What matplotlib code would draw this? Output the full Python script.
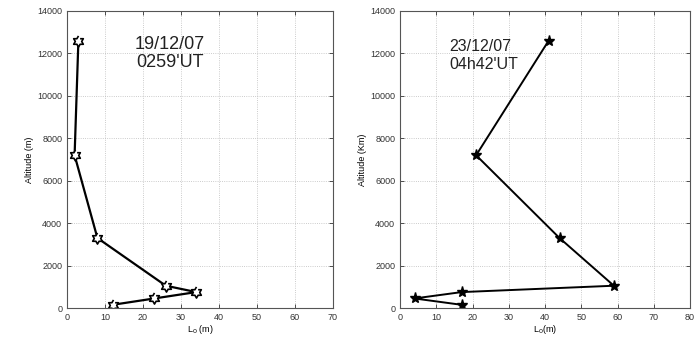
import numpy as np
import matplotlib
matplotlib.use("Agg")
import matplotlib.pyplot as plt

plt.rcParams["font.family"] = ["Liberation Sans", "DejaVu Sans"]

# left panel: 19/12/07 0259'UT
alt1 = [12600, 7200, 3300, 1050, 750, 450, 150]
l0_1 = [3, 2, 8, 26, 34, 23, 12]
# right panel: 23/12/07 04h42'UT
alt2 = [12600, 7200, 3300, 1050, 750, 450, 150]
l0_2 = [41, 21, 44, 59, 17, 4, 17]

xticks1 = [0, 10, 20, 30, 40, 50, 60, 70]
xticks2 = [0, 10, 20, 30, 40, 50, 60, 70, 80]
yticks = [0, 2000, 4000, 6000, 8000, 10000, 12000, 14000]

# hexagram marker (star of David)
ang = np.pi / 2 + np.arange(12) * np.pi / 6
rad = np.where(np.arange(12) % 2 == 0, 1.0, 1 / np.sqrt(3))
hexagram = list(zip(rad * np.cos(ang), rad * np.sin(ang)))

W, H = 698, 344
fig = plt.figure(figsize=(W / 100, H / 100), dpi=100)

def style(ax, xt, xmax, ylabel, xlabel):
    ax.set_xlim(0, xmax)
    ax.set_ylim(0, 14000)
    ax.set_xticks(xt)
    ax.set_yticks(yticks)
    ax.tick_params(direction="in", top=True, right=True, labelsize=6.5,
                   length=3, width=0.6, colors="#333333")
    ax.grid(True, linestyle=":", color="#bbbbbb", linewidth=0.6)
    for s in ax.spines.values():
        s.set_color("#555555")
        s.set_linewidth(0.8)
    ax.set_ylabel(ylabel, fontsize=6.5, labelpad=2)
    ax.set_xlabel(xlabel, fontsize=6.5, labelpad=1)

ax1 = fig.add_axes([67 / W, 36 / H, 266 / W, 297 / H])
ax1.plot(l0_1, alt1, color="black", lw=1.6, marker=hexagram, ms=8,
         mfc="white", mec="black", mew=1.2)
ax1.text(27, 12000, "19/12/07\n0259'UT", fontsize=13, ha="center", va="center",
         linespacing=1.1, color="#222222")
style(ax1, xticks1, 70, "Altitude (m)", "L$_0$ (m)")

ax2 = fig.add_axes([400 / W, 36 / H, 290 / W, 297 / H])
ax2.plot(l0_2, alt2, color="black", lw=1.4, marker="*", ms=8, mfc="black", mec="black")
ax2.text(13.5, 11900, "23/12/07\n04h42'UT", fontsize=11.5, ha="left", va="center",
         linespacing=1.2, color="#222222")
style(ax2, xticks2, 80, "Altitude (Km)", "L$_0$(m)")

fig.savefig("out.png", dpi=100)
